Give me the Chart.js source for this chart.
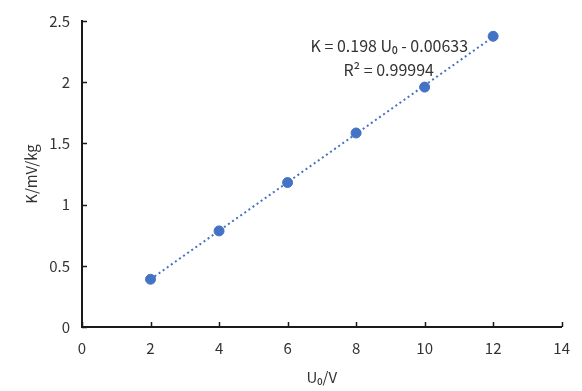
<!DOCTYPE html>
<html>
<head>
<meta charset="utf-8">
<script src="https://cdn.jsdelivr.net/npm/chart.js@4.4.0/dist/chart.umd.min.js"></script>
<style>
  html, body { margin: 0; padding: 0; background: #fff; }
  #wrap { width: 582px; height: 391px; }
</style>
</head>
<body>
<div id="wrap"><canvas id="chart" width="582" height="391"></canvas></div>
<script>
// measured points
const voltages = [2, 4, 6, 8, 10, 12];
const sensitivity = [0.39, 0.785, 1.18, 1.585, 1.96, 2.375];

// linear trendline endpoints
const trendX = [2, 12];
const trendY = [0.39, 2.37];

const xTicks = [0, 2, 4, 6, 8, 10, 12, 14];
const yTicks = [0, 0.5, 1, 1.5, 2, 2.5];

const eqLines = ['K = 0.198 U\u2080 - 0.00633', 'R\u00b2 = 0.99994'];

const blue = '#4472C4';
const axisColor = '#1a1a1a';
const textColor = '#333333';
const fontFamily = '"Noto Sans CJK SC", "Noto Sans", sans-serif';

// ticks point inward in the reference, so draw them ourselves
const innerTicks = {
    id: 'innerTicks',
    afterDraw(chart) {
        const ctx = chart.ctx;
        const x = chart.scales.x;
        const y = chart.scales.y;
        const area = chart.chartArea;
        ctx.save();
        ctx.strokeStyle = axisColor;
        ctx.lineWidth = 1.5;
        ctx.beginPath();
        xTicks.forEach(v => {
            const px = Math.round(x.getPixelForValue(v)) + 0.5;
            ctx.moveTo(px, area.bottom);
            ctx.lineTo(px, area.bottom - 5);
        });
        yTicks.forEach(v => {
            const py = Math.round(y.getPixelForValue(v)) + 0.5;
            ctx.moveTo(area.left, py);
            ctx.lineTo(area.left + 5, py);
        });
        ctx.stroke();

        // trendline label
        ctx.fillStyle = textColor;
        ctx.font = '16px ' + fontFamily;
        ctx.textAlign = 'center';
        ctx.textBaseline = 'middle';
        ctx.fillText(eqLines[0], x.getPixelForValue(8.97), y.getPixelForValue(2.30));
        ctx.fillText(eqLines[1], x.getPixelForValue(8.95), y.getPixelForValue(2.10));
        ctx.restore();
    }
};

new Chart(document.getElementById('chart'), {
    type: 'scatter',
    data: {
        datasets: [
            {
                label: 'trend',
                data: trendX.map((v, i) => ({ x: v, y: trendY[i] })),
                showLine: true,
                borderColor: blue,
                borderWidth: 2,
                borderDash: [2, 3],
                pointRadius: 0,
                fill: false
            },
            {
                label: 'K',
                data: voltages.map((v, i) => ({ x: v, y: sensitivity[i] })),
                backgroundColor: blue,
                borderColor: blue,
                pointRadius: 5,
                pointHoverRadius: 5
            }
        ]
    },
    options: {
        responsive: false,
        animation: false,
        layout: {
            padding: { left: 0, top: 21, right: 18, bottom: 0 }
        },
        plugins: {
            legend: { display: false },
            tooltip: { enabled: false }
        },
        scales: {
            x: {
                type: 'linear',
                min: 0,
                max: 14,
                afterBuildTicks: function(scale) {
                    scale.ticks = xTicks.map(v => ({ value: v }));
                },
                afterFit: function(scale) {
                    scale.height = 64;
                },
                grid: { display: false, drawTicks: false },
                border: { display: true, color: axisColor, width: 2 },
                ticks: {
                    color: textColor,
                    padding: 12,
                    font: { family: fontFamily, size: 15 },
                    callback: function(value) {
                        return String(value);
                    }
                },
                title: {
                    display: true,
                    text: 'U\u2080/V',
                    color: textColor,
                    padding: { top: 2, bottom: 5 },
                    font: { family: fontFamily, size: 15 }
                }
            },
            y: {
                type: 'linear',
                min: 0,
                max: 2.5,
                afterBuildTicks: function(scale) {
                    scale.ticks = yTicks.map(v => ({ value: v }));
                },
                afterFit: function(scale) {
                    scale.width = 82;
                },
                grid: { display: false, drawTicks: false },
                border: { display: true, color: axisColor, width: 2 },
                ticks: {
                    color: textColor,
                    padding: 12,
                    font: { family: fontFamily, size: 15 },
                    callback: function(value) {
                        return String(value);
                    }
                },
                title: {
                    display: true,
                    text: 'K/mV/kg',
                    color: textColor,
                    padding: { top: 22, bottom: 0 },
                    font: { family: fontFamily, size: 15 }
                }
            }
        }
    },
    plugins: [innerTicks]
});
</script>
</body>
</html>
